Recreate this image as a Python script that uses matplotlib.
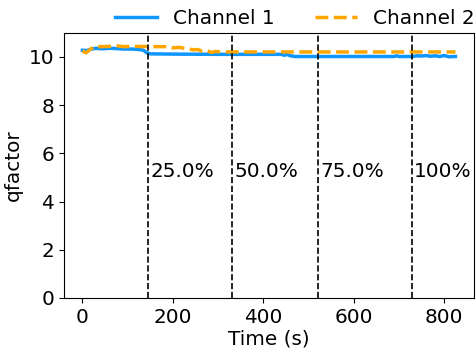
import matplotlib
matplotlib.use("Agg")
import matplotlib.pyplot as plt

# Channel 1 (solid blue)
t1 = [0, 10, 20, 30, 45, 60, 75, 90, 110, 125, 135, 142, 150, 200, 300, 400, 440, 447, 452, 460, 470,
      500, 600, 650, 690, 695, 700, 720, 730, 740, 750, 760, 770, 780, 790, 800, 810, 825]
q1 = [10.28, 10.27, 10.33, 10.36, 10.34, 10.36, 10.35, 10.33, 10.33, 10.31, 10.28, 10.18, 10.13, 10.12,
      10.11, 10.11, 10.11, 10.07, 10.11, 10.05, 10.02, 10.02, 10.02, 10.02, 10.02, 10.05, 10.02, 10.02,
      10.02, 10.05, 10.04, 10.06, 10.03, 10.05, 10.02, 10.06, 10.01, 10.02]

# Channel 2 (dashed orange)
t2 = [0, 8, 15, 25, 40, 60, 75, 90, 120, 150, 190, 200, 215, 230, 245, 255, 265, 275, 285, 295, 305,
      320, 400, 500, 600, 700, 825]
q2 = [10.25, 10.17, 10.28, 10.42, 10.43, 10.44, 10.47, 10.43, 10.44, 10.43, 10.43, 10.38, 10.40, 10.34,
      10.30, 10.31, 10.24, 10.27, 10.19, 10.23, 10.21, 10.21, 10.21, 10.21, 10.21, 10.21, 10.21]

# Vertical markers
marks = [145, 330, 521, 728]
mark_labels = ["25.0%", "50.0%", "75.0%", "100%"]

FS = 14.4

fig = plt.figure(figsize=(4.76, 3.5), dpi=100)
ax = fig.add_axes([0.134, 0.149, 0.862, 0.757])

ax.plot(t1, q1, color="#0f96ff", lw=2.5, label="Channel 1")
ax.plot(t2, q2, color="#ffa500", lw=2.5, ls="--", label="Channel 2")

for m, lab in zip(marks, mark_labels):
    ax.axvline(m, color="black", ls="--", lw=1.2)
    ax.text(m + 6, 5, lab, fontsize=FS)

ax.set_ylim(0, 11)
ax.set_xlabel("Time (s)", fontsize=FS, labelpad=2)
ax.set_ylabel("qfactor", fontsize=FS)
ax.tick_params(labelsize=FS)
ax.legend(loc="lower right", bbox_to_anchor=(1.021, 0.99), ncol=2, frameon=False, fontsize=FS,
          handlelength=2.1, columnspacing=2.0, borderaxespad=0)

fig.savefig("out.png", dpi=100)
